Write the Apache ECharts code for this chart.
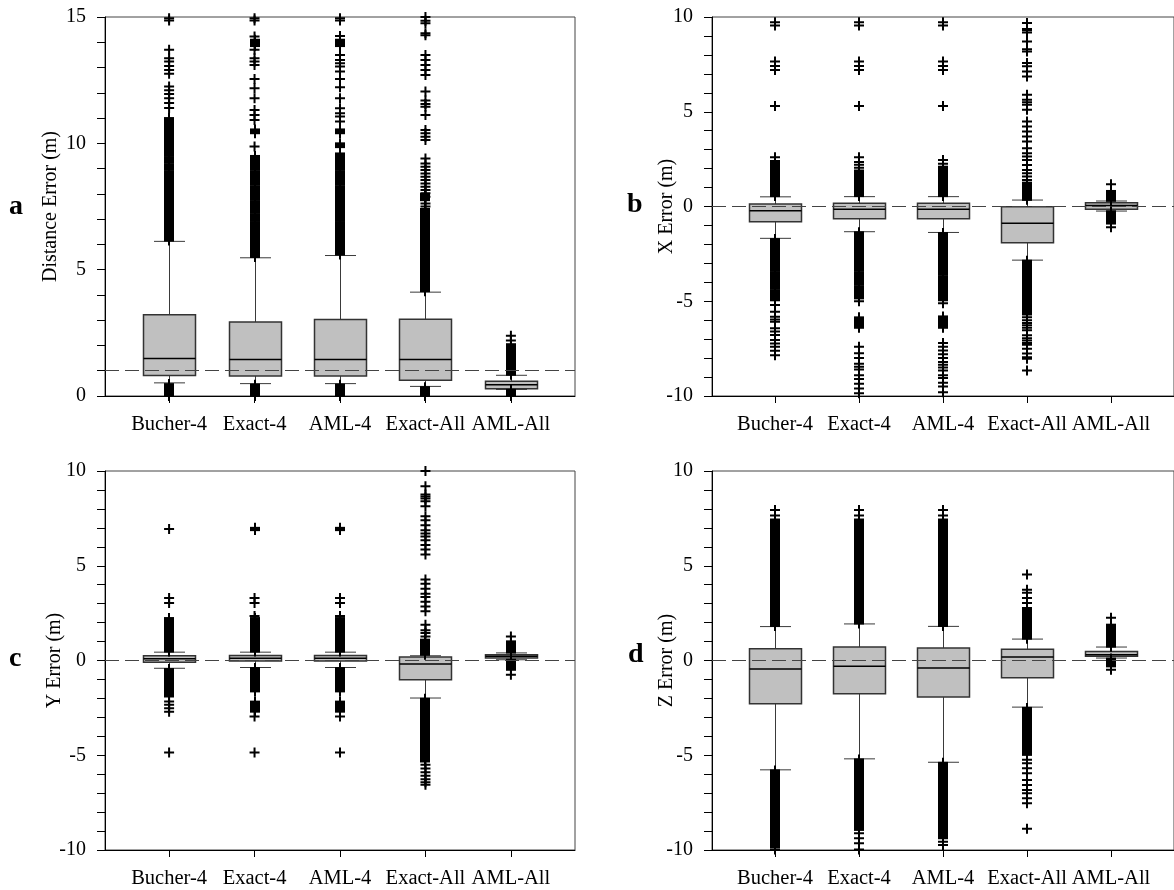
<!DOCTYPE html>
<html>
<head>
<meta charset="utf-8">
<script src="https://cdn.jsdelivr.net/npm/echarts@6/dist/echarts.min.js"></script>
<style>
html,body{margin:0;padding:0;background:#fff;}
#chart{width:1174px;height:890px;}
</style>
</head>
<body>
<div id="chart"></div>
<script>
const categories = ['Bucher-4', 'Exact-4', 'AML-4', 'Exact-All', 'AML-All'];
const yNames = ['Distance Error (m)', 'X Error (m)', 'Y Error (m)', 'Z Error (m)'];
const panelLetters = ['a', 'b', 'c', 'd'];
const refLines = [1, 0, 0, 0];
const yRanges = [[0, 15], [-10, 10], [-10, 10], [-10, 10]];

// boxes: [lower whisker, Q1, median, Q3, upper whisker] per category
const boxA = [[0.52, 0.81, 1.48, 3.22, 6.12], [0.49, 0.79, 1.44, 2.93, 5.47], [0.49, 0.79, 1.44, 3.03, 5.56], [0.38, 0.62, 1.44, 3.04, 4.11], [0.26, 0.29, 0.45, 0.58, 0.82]];
const boxB = [[-1.68, -0.80, -0.22, 0.13, 0.51], [-1.33, -0.64, -0.15, 0.17, 0.52], [-1.37, -0.64, -0.15, 0.17, 0.52], [-2.83, -1.91, -0.89, -0.01, 0.34], [-0.24, -0.15, 0.05, 0.20, 0.29]];
const boxC = [[-0.41, -0.09, 0.09, 0.25, 0.44], [-0.37, -0.02, 0.12, 0.26, 0.44], [-0.37, -0.02, 0.12, 0.26, 0.44], [-1.98, -1.01, -0.19, 0.18, 0.25], [0.04, 0.13, 0.22, 0.31, 0.40]];
const boxD = [[-5.77, -2.28, -0.45, 0.62, 1.79], [-5.19, -1.75, -0.31, 0.71, 1.93], [-5.37, -1.93, -0.40, 0.66, 1.80], [-2.46, -0.91, 0.18, 0.59, 1.13], [0.13, 0.22, 0.31, 0.47, 0.71]];

// dense outlier runs: [category number, low, high]
const bandsA = [
  [1, 0, 0.47], [1, 6.15, 6.85], [1, 6.9, 7.38], [1, 7.44, 7.72], [1, 7.78, 8.12], [1, 8.18, 8.9], [1, 8.96, 9.17], [1, 9.23, 9.43], [1, 9.5, 11.0],
  [2, 0, 0.45], [2, 5.5, 6.88], [2, 6.93, 7.2], [2, 7.26, 7.7], [2, 7.76, 8.3], [2, 8.36, 8.9], [2, 8.96, 9.2], [2, 9.26, 9.5], [2, 10.4, 10.55], [2, 13.85, 14.1],
  [3, 0, 0.45], [3, 5.6, 6.88], [3, 6.93, 7.5], [3, 7.56, 8.3], [3, 8.36, 8.9], [3, 8.96, 9.6], [3, 9.85, 10.0], [3, 10.4, 10.55], [3, 13.85, 14.1],
  [4, 0, 0.35], [4, 4.15, 5.6], [4, 5.66, 6.15], [4, 6.21, 6.55], [4, 6.61, 7.4], [4, 7.75, 8.0],
  [5, 0, 0.24], [5, 0.84, 2.05]
];
const bandsB = [
  [1, 0.55, 2.4], [1, -3.4, -1.72], [1, -3.85, -3.48], [1, -4.35, -3.93], [1, -4.95, -4.45],
  [2, 0.55, 1.9], [2, -3.4, -1.36], [2, -4.1, -3.5], [2, -4.85, -4.2], [2, -6.4, -5.85],
  [3, 0.55, 2.1], [3, -3.6, -1.4], [3, -4.3, -3.68], [3, -4.95, -4.38], [3, -6.4, -5.8],
  [4, 0.35, 1.26], [4, -5.7, -2.86],
  [5, 0.3, 0.82], [5, -0.9, -0.25]
];
const bandsC = [
  [1, 0.47, 2.24], [1, -1.9, -0.45],
  [2, 0.47, 2.24], [2, -1.63, -0.4], [2, -2.7, -2.17], [2, 6.88, 7.0],
  [3, 0.47, 2.24], [3, -1.63, -0.4], [3, -2.7, -2.17], [3, 6.88, 7.0],
  [4, 0.3, 1.1], [4, -4.54, -2.02], [4, -5.33, -4.6],
  [5, 0.42, 1.01], [5, -0.49, 0.04]
];
const bandsD = [
  [1, 1.82, 3.9], [1, 3.96, 4.6], [1, 4.66, 7.44], [1, -7.6, -5.8], [1, -8.8, -7.66], [1, -9.86, -8.86],
  [2, 1.95, 4.7], [2, 4.76, 7.44], [2, -7.4, -5.22], [2, -8.94, -7.46],
  [3, 1.82, 4.0], [3, 4.06, 7.44], [3, -7.6, -5.4], [3, -9.38, -7.66],
  [4, 1.15, 2.69], [4, -4.98, -2.5],
  [5, 0.73, 1.89], [5, -0.31, 0.1]
];

// individual outliers, one list per category
const pointsA = [
  [11.4, 11.6, 11.78, 11.95, 12.1, 12.25, 12.75, 12.9, 13.06, 13.24, 13.37, 13.7, 14.86, 14.95],
  [9.87, 10.92, 11.12, 11.32, 11.78, 12.18, 12.55, 13.1, 13.24, 13.37, 13.7, 14.23, 14.86, 14.95],
  [10.86, 11.06, 11.19, 11.39, 11.78, 12.22, 12.55, 12.84, 13.04, 13.17, 13.3, 13.5, 14.25, 14.86, 14.95],
  [7.5, 7.62, 7.89, 8.02, 8.15, 8.28, 8.41, 8.55, 8.68, 8.81, 8.94, 9.07, 9.2, 9.4, 10.13, 10.26, 10.4, 10.53, 11.12, 11.45, 11.56, 11.7, 12.05, 12.7, 12.9, 13.1, 13.3, 13.5, 14.28, 14.36, 14.75, 14.85, 15.0],
  [2.2, 2.38]
];
const pointsB = [
  [2.6, 5.3, 7.2, 7.42, 7.65, 9.55, 9.72, -5.2, -5.56, -5.82, -5.96, -6.08, -6.43, -6.6, -6.78, -7.05, -7.23, -7.4, -7.61, -7.85],
  [2.05, 2.2, 2.35, 2.6, 5.3, 7.2, 7.42, 7.65, 9.55, 9.72, -5.0, -7.4, -7.75, -8.0, -8.3, -8.45, -8.6, -8.9, -9.1, -9.35, -9.6, -9.85],
  [2.25, 2.45, 5.3, 7.2, 7.42, 7.65, 9.55, 9.72, -5.1, -7.2, -7.4, -7.6, -7.8, -8.0, -8.2, -8.35, -8.5, -8.65, -8.9, -9.05, -9.3, -9.5, -9.8],
  [1.4, 1.58, 1.75, 1.93, 2.19, 2.46, 2.64, 2.81, 3.08, 3.43, 3.69, 3.96, 4.22, 4.48, 5.1, 5.37, 5.5, 5.63, 5.9, 6.86, 7.13, 7.4, 7.57, 8.18, 8.3, 8.71, 9.18, 9.3, 9.37, 9.68,
   -5.85, -6.0, -6.15, -6.27, -6.4, -6.53, -6.8, -6.95, -7.07, -7.2, -7.3, -7.5, -7.76, -7.95, -8.03, -8.65],
  [1.17, -1.1]
];
const pointsC = [
  [3.03, 3.3, 6.94, -2.17, -2.34, -2.52, -2.7, -4.85],
  [2.35, 3.03, 3.3, -2.96, -4.85],
  [2.35, 3.03, 3.3, -2.96, -4.85],
  [1.27, 1.45, 1.6, 1.89, 2.6, 2.85, 3.1, 3.35, 3.52, 3.79, 4.05, 4.27, 5.59, 5.86, 6.1, 6.35, 6.55, 6.7, 6.87, 7.14, 7.4, 7.61, 8.14, 8.41, 8.55, 8.65, 8.76, 9.2, 10.0,
   -5.5, -5.7, -5.9, -6.08, -6.26, -6.43, -6.56],
  [1.27, -0.75]
];
const pointsD = [
  [7.65, 7.94, -9.97],
  [7.65, 7.94, -9.12, -9.38, -9.65, -9.97],
  [7.65, 7.94, -9.56, -9.74],
  [2.77, 3.04, 3.3, 3.57, 3.74, 4.54, -5.24, -5.42, -5.68, -5.95, -6.3, -6.57, -6.83, -7.0, -7.27, -7.53, -8.88],
  [2.25, -0.49]
];

const boxes = [boxA, boxB, boxC, boxD];
const bands = [bandsA, bandsB, bandsC, bandsD];
const points = [pointsA, pointsB, pointsC, pointsD];

// ---------- layout ----------
const FONT = 'Liberation Serif';
const grids = [
  {left: 105, top: 17, width: 470, height: 379},
  {left: 712, top: 17, width: 470, height: 379},
  {left: 105, top: 471, width: 470, height: 379},
  {left: 712, top: 471, width: 470, height: 379}
];
const nameGaps = [44, 35, 40, 35];
const letterPos = [[17, 210], [635, 208], [17, 662], [636, 658]];
const PLUS = 'path://M0 4H10V6H0Z M4 0H6V10H4Z';

function renderBox(params, api) {
  const x = api.value(0);
  const pLow = api.coord([x, api.value(1)]);
  const pQ1 = api.coord([x, api.value(2)]);
  const pMed = api.coord([x, api.value(3)]);
  const pQ3 = api.coord([x, api.value(4)]);
  const pUp = api.coord([x, api.value(5)]);
  const cx = Math.round(pLow[0]) + 0.5;
  const bw = 52, cw = 31;
  const ws = {stroke: '#3a3a3a', lineWidth: 1};
  return {
    type: 'group',
    children: [
      {type: 'line', shape: {x1: cx, y1: pQ1[1], x2: cx, y2: pLow[1]}, style: ws},
      {type: 'line', shape: {x1: cx, y1: pQ3[1], x2: cx, y2: pUp[1]}, style: ws},
      {type: 'line', shape: {x1: cx - cw / 2, y1: pLow[1], x2: cx + cw / 2, y2: pLow[1]}, style: ws},
      {type: 'line', shape: {x1: cx - cw / 2, y1: pUp[1], x2: cx + cw / 2, y2: pUp[1]}, style: ws},
      {type: 'rect', shape: {x: cx - bw / 2, y: pQ3[1], width: bw, height: pQ1[1] - pQ3[1]},
        style: {fill: '#c0c0c0', stroke: '#333', lineWidth: 1.5}},
      {type: 'line', shape: {x1: cx - bw / 2, y1: pMed[1], x2: cx + bw / 2, y2: pMed[1]},
        style: {stroke: '#000', lineWidth: 1.5}}
    ]
  };
}

// a dense run of "+" marks: the horizontal strokes merge into a block,
// the vertical strokes stick out 4px above and below it
function renderBand(params, api) {
  const x = api.value(0);
  const pA = api.coord([x, api.value(1)]);
  const pB = api.coord([x, api.value(2)]);
  const yTop = Math.min(pA[1], pB[1]);
  const yBot = Math.max(pA[1], pB[1]);
  const cx = Math.round(pA[0]);
  return {
    type: 'group',
    children: [
      {type: 'rect', shape: {x: cx - 5, y: yTop - 1, width: 10, height: yBot - yTop + 2}, style: {fill: '#000'}},
      {type: 'rect', shape: {x: cx - 1, y: yTop - 5, width: 2, height: yBot - yTop + 10}, style: {fill: '#000'}}
    ]
  };
}

const option = {
  animation: false,
  backgroundColor: '#fff',
  textStyle: {fontFamily: FONT, color: '#000'},
  grid: grids.map(g => Object.assign({show: true, borderColor: '#444', borderWidth: 1, backgroundColor: 'transparent', containLabel: false}, g)),
  xAxis: grids.map((g, i) => ({
    type: 'value', gridIndex: i, min: 0.25, max: 5.75,
    splitLine: {show: false},
    axisLine: {show: true, onZero: false, lineStyle: {color: '#000', width: 1}},
    axisTick: {show: true, length: 7, lineStyle: {color: '#000'}, customValues: [1, 2, 3, 4, 5]},
    axisLabel: {
      show: true, margin: 18, fontSize: 20.5, fontFamily: FONT, color: '#000',
      customValues: [1, 2, 3, 4, 5],
      formatter: v => categories[Math.round(v) - 1] || ''
    }
  })),
  yAxis: grids.map((g, i) => ({
    type: 'value', gridIndex: i, min: yRanges[i][0], max: yRanges[i][1], interval: 5,
    name: yNames[i], nameLocation: 'middle', nameRotate: 90, nameGap: nameGaps[i],
    nameMoveOverlap: false,
    nameTextStyle: {fontSize: 20, fontFamily: FONT, color: '#000'},
    splitLine: {show: false},
    axisLine: {show: true, onZero: false, lineStyle: {color: '#000', width: 1}},
    axisTick: {show: true, length: 8, inside: false, lineStyle: {color: '#000'}},
    minorTick: {show: true, splitNumber: 5, length: 8, lineStyle: {color: '#000'}},
    minorSplitLine: {show: false},
    axisLabel: {margin: 19, fontSize: 20, fontFamily: FONT, color: '#000'}
  })),
  graphic: panelLetters.map((t, i) => ({
    type: 'text', left: letterPos[i][0] - 8, top: letterPos[i][1] - 17,
    style: {text: t, font: 'bold 28px "Liberation Serif"', fill: '#000'}
  })),
  series: []
};

for (let i = 0; i < 4; i++) {
  option.series.push({
    type: 'custom', xAxisIndex: i, yAxisIndex: i, z: 2,
    renderItem: renderBox,
    encode: {x: 0, y: [1, 2, 3, 4, 5]},
    data: boxes[i].map((b, k) => [k + 1].concat(b))
  });
  option.series.push({
    type: 'custom', xAxisIndex: i, yAxisIndex: i, z: 3,
    renderItem: renderBand,
    encode: {x: 0, y: [1, 2]},
    data: bands[i]
  });
  const pts = [];
  points[i].forEach((list, k) => list.forEach(v => pts.push([k + 1, v])));
  option.series.push({
    type: 'scatter', xAxisIndex: i, yAxisIndex: i, z: 4,
    symbol: PLUS, symbolSize: 10, itemStyle: {color: '#000', opacity: 1},
    data: pts,
    markLine: {
      silent: true, symbol: 'none', label: {show: false}, z: 5,
      lineStyle: {type: [14, 6], color: '#444', width: 1},
      data: [{yAxis: refLines[i]}]
    }
  });
}

const chart = echarts.init(document.getElementById('chart'), null, {renderer: 'canvas'});
chart.setOption(option);
</script>
</body>
</html>
